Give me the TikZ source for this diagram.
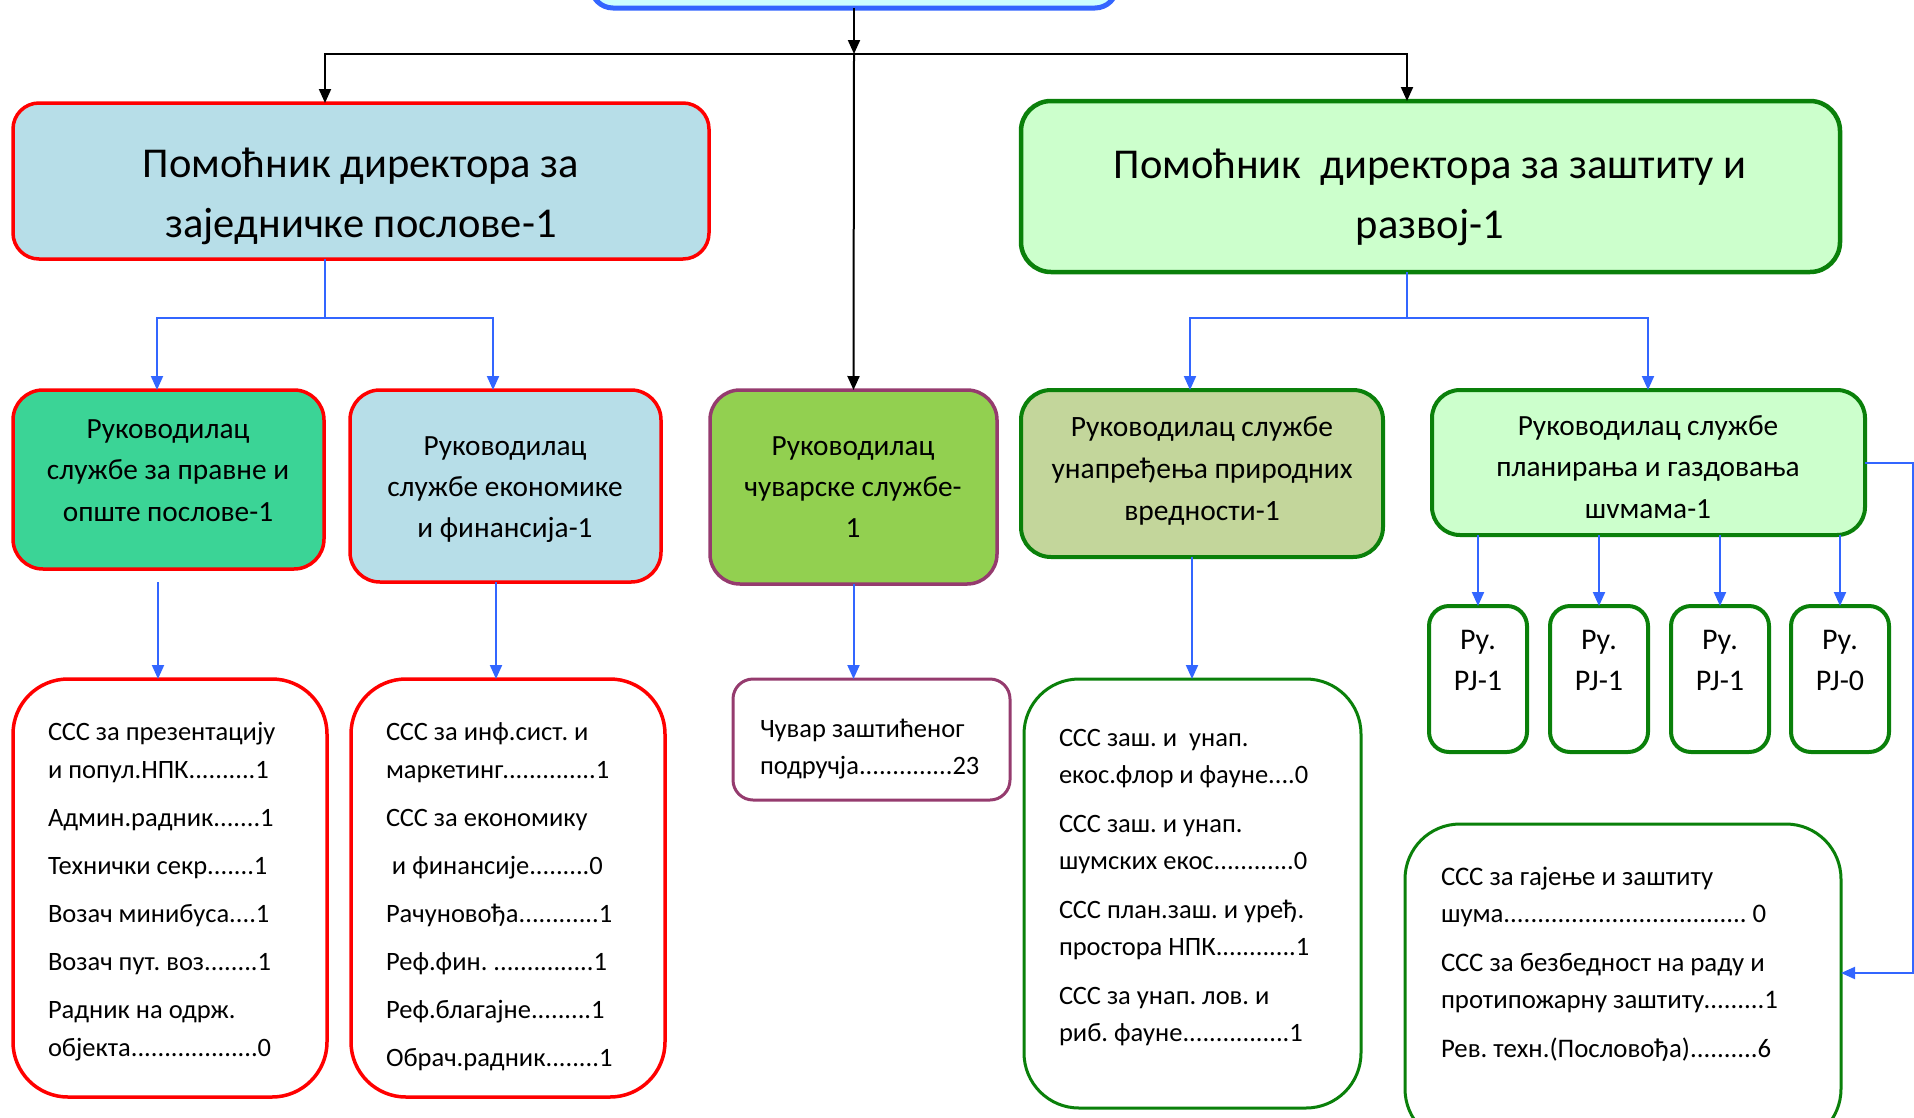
\documentclass[tikz,border=0pt]{standalone}
\usepackage{fontspec}
\setmainfont{Carlito}
\frenchspacing
\usetikzlibrary{arrows.meta,calc}
\definecolor{lblue}{HTML}{B7DEE8}
\definecolor{redb}{HTML}{FF0000}
\definecolor{tealg}{HTML}{3BD496}
\definecolor{limeg}{HTML}{92D050}
\definecolor{purp}{HTML}{953B6E}
\definecolor{mint}{HTML}{CCFFCC}
\definecolor{greenb}{HTML}{0A800A}
\definecolor{olive}{HTML}{C3D69B}
\definecolor{conblue}{HTML}{3366FF}
\definecolor{cyanf}{HTML}{CCFFFF}
\newcommand\myc[1]{\hbox to 0pt{\hss#1\hss}}
\newcommand\myl[1]{\hbox{#1}}
\tikzset{
  box/.style={rectangle, inner sep=0pt, outer sep=0pt, anchor=north west},
  txt/.style={inner sep=0pt, outer sep=0pt, text=black},
  blk/.style={draw=black, line width=2pt, -{Triangle[length=14pt,width=12pt]}},
  bl/.style={draw=conblue, line width=2pt, -{Triangle[length=14pt,width=12pt]}},
  blplain/.style={draw=conblue, line width=2pt},
}
\begin{document}
\begin{tikzpicture}[x=1pt,y=-1pt]
\useasboundingbox (0,0) rectangle (1914,1117);
% top box
\node[box, draw=conblue, fill=cyanf, line width=5pt, rounded corners=22pt, minimum width=526pt, minimum height=80pt] (T) at (591,-72) {};
% level 1
\node[box, draw=redb, fill=lblue, line width=3.5pt, rounded corners=26pt, minimum width=696pt, minimum height=156pt] (A) at (13,103) {};
\node[box, draw=greenb, fill=mint, line width=4.5pt, rounded corners=30pt, minimum width=819pt, minimum height=171pt] (D) at (1021,101) {};
% level 2
\node[box, draw=redb, fill=tealg, line width=3.5pt, rounded corners=30pt, minimum width=311pt, minimum height=179pt] (B1) at (13,390) {};
\node[box, draw=redb, fill=lblue, line width=3.5pt, rounded corners=30pt, minimum width=311pt, minimum height=192pt] (B2) at (350,390) {};
\node[box, draw=purp, fill=limeg, line width=3.5pt, rounded corners=30pt, minimum width=287pt, minimum height=194pt] (C) at (710,390) {};
\node[box, draw=greenb, fill=olive, line width=4pt, rounded corners=30pt, minimum width=362pt, minimum height=167pt] (E) at (1021,390) {};
\node[box, draw=greenb, fill=mint, line width=4pt, rounded corners=28pt, minimum width=433pt, minimum height=145pt] (F) at (1432,390) {};
% PJ boxes
\node[box, draw=greenb, fill=white, line width=4pt, rounded corners=20pt, minimum width=98pt, minimum height=146pt] (P1) at (1429,606) {};
\node[box, draw=greenb, fill=white, line width=4pt, rounded corners=20pt, minimum width=98pt, minimum height=146pt] (P2) at (1550,606) {};
\node[box, draw=greenb, fill=white, line width=4pt, rounded corners=20pt, minimum width=98pt, minimum height=146pt] (P3) at (1671,606) {};
\node[box, draw=greenb, fill=white, line width=4pt, rounded corners=20pt, minimum width=98pt, minimum height=146pt] (P4) at (1791,606) {};
% level 3
\node[box, draw=redb, fill=white, line width=3.5pt, rounded corners=55pt, minimum width=314pt, minimum height=418pt] (G1) at (13,679) {};
\node[box, draw=redb, fill=white, line width=3.5pt, rounded corners=55pt, minimum width=314pt, minimum height=418pt] (G2) at (351,679) {};
\node[box, draw=purp, fill=white, line width=3pt, rounded corners=20pt, minimum width=277pt, minimum height=121pt] (H) at (733,679) {};
\node[box, draw=greenb, fill=white, line width=3pt, rounded corners=55pt, minimum width=337pt, minimum height=429pt] (I) at (1024,679) {};
\node[box, draw=greenb, fill=white, line width=3pt, rounded corners=55pt, minimum width=436pt, minimum height=320pt] (J) at (1405,824) {};

% texts
\node[txt, anchor=base] (At) at (361,177) {\fontsize{42.5}{60}\selectfont\vtop{\myc{Помоћник директора за}\myc{заједничке послове-1}}};
\node[txt, anchor=base] (Dt) at (1430,178) {\fontsize{42.5}{60}\selectfont\vtop{\myc{Помоћник\ \ директора за заштиту и}\myc{развој-1}}};
\node[txt, anchor=base] (B1t) at (168,438) {\fontsize{29.3}{41.5}\selectfont\vtop{\myc{Руководилац}\myc{службе за правне и}\myc{опште послове-1}}};
\node[txt, anchor=base] (B2t) at (505,455) {\fontsize{29.3}{41}\selectfont\vtop{\myc{Руководилац}\myc{службе економике}\myc{и финансија-1}}};
\node[txt, anchor=base] (Ct) at (853,455) {\fontsize{29.3}{41}\selectfont\vtop{\myc{Руководилац}\myc{чуварске службе-}\myc{1}}};
\node[txt, anchor=base] (Et) at (1202,436) {\fontsize{29.5}{42}\selectfont\vtop{\myc{Руководилац службе}\myc{унапређења природних}\myc{вредности-1}}};
\node[txt, anchor=base] (Ft) at (1648,435) {\fontsize{29.3}{41.5}\selectfont\vtop{\myc{Руководилац службе}\myc{планирања и газдовања}\myc{шvмама-1}}};
\node[txt, anchor=base] (P1t) at (1478,649) {\fontsize{30}{41}\selectfont\vtop{\myc{Ру.}\myc{РЈ-1}}};
\node[txt, anchor=base] (P2t) at (1599,649) {\fontsize{30}{41}\selectfont\vtop{\myc{Ру.}\myc{РЈ-1}}};
\node[txt, anchor=base] (P3t) at (1720,649) {\fontsize{30}{41}\selectfont\vtop{\myc{Ру.}\myc{РЈ-1}}};
\node[txt, anchor=base] (P4t) at (1840,649) {\fontsize{30}{41}\selectfont\vtop{\myc{Ру.}\myc{РЈ-0}}};
\node[txt, anchor=base west] (G1t) at (48,740) {\fontsize{26.5}{38}\selectfont\vtop{%
 \myl{ССС за презентацију}\myl{и попул.НПК..........1}\vskip10pt
 \myl{Админ.радник.......1}\vskip10pt
 \myl{Технички секр.......1}\vskip10pt
 \myl{Возач минибуса....1}\vskip10pt
 \myl{Возач пут. воз........1}\vskip10pt
 \myl{Радник на одрж.}\myl{објекта...................0}}};
\node[txt, anchor=base west] (G2t) at (386,740) {\fontsize{26.5}{38}\selectfont\vtop{%
 \myl{ССС за инф.сист. и}\myl{маркетинг..............1}\vskip10pt
 \myl{ССС за економику}\vskip10pt
 \myl{\ и финансије.........0}\vskip10pt
 \myl{Рачуновођа............1}\vskip10pt
 \myl{Реф.фин. ...............1}\vskip10pt
 \myl{Реф.благајне.........1}\vskip10pt
 \myl{Обрач.радник........1}}};
\node[txt, anchor=base west] (Ht) at (760,737) {\fontsize{26.5}{37}\selectfont\vtop{%
 \myl{Чувар заштићеног}\myl{подручја..............23}}};
\node[txt, anchor=base west] (It) at (1059,746) {\fontsize{26.5}{37.5}\selectfont\vtop{%
 \myl{ССС заш. и\ \ унап.}\myl{екос.флор и фауне....0}\vskip11pt
 \myl{ССС заш. и унап.}\myl{шумских екос............0}\vskip11pt
 \myl{ССС план.заш. и уређ.}\myl{простора НПК............1}\vskip11pt
 \myl{ССС за унап. лов. и}\myl{риб. фауне................1}}};
\node[txt, anchor=base west] (Jt) at (1441,885) {\fontsize{26.8}{37.5}\selectfont\vtop{%
 \myl{ССС за гајење и заштиту}\myl{шума.................................... 0}\vskip11pt
 \myl{ССС за безбедност на раду и}\myl{протипожарну заштиту.........1}\vskip11pt
 \myl{Рев. техн.(Пословођа)..........6}}};

% connectors (black)
\coordinate (hub) at (854,54);
\coordinate (xa) at (325,0);
\coordinate (xd) at (1407,0);
\draw[blk] (T.south) -- (hub);
\draw[draw=black, line width=2pt] (xa |- hub) -- (xd |- hub);
\draw[blk] (hub) -| (xa |- A.north);
\draw[blk] (hub) -| (xd |- D.north);
\draw[blk] (hub) -- (C.north);
% blue connectors
\coordinate (ja) at (325,318);
\coordinate (jd) at (1407,318);
\coordinate (xb1) at (157,0);
\coordinate (xb2) at (493,0);
\coordinate (xe) at (1190,0);
\coordinate (xf) at (1648,0);
\draw[blplain] (xa |- A.south) -- (ja);
\draw[bl] (ja) -| (xb1 |- B1.north);
\draw[bl] (ja) -| (xb2 |- B2.north);
\draw[blplain] (xd |- D.south) -- (jd);
\draw[bl] (jd) -| (xe |- E.north);
\draw[bl] (jd) -| (xf |- F.north);
\coordinate (g1x) at (158,0);
\coordinate (g2x) at (496,0);
\coordinate (ix) at (1192,0);
\draw[bl, shorten <=13pt] (g1x |- B1.south) -- (g1x |- G1.north);
\draw[bl] (g2x |- B2.south) -- (g2x |- G2.north);
\draw[bl] (C.south) -- (C.south |- H.north);
\draw[bl] (ix |- E.south) -- (ix |- I.north);
\draw[bl] (P1.north |- F.south) -- (P1.north);
\draw[bl] (P2.north |- F.south) -- (P2.north);
\draw[bl] (P3.north |- F.south) -- (P3.north);
\draw[bl] (P4.north |- F.south) -- (P4.north);
\coordinate (jr) at (1913,973);
\draw[bl] (F.east) -| (jr) -- (jr -| J.east);
\end{tikzpicture}
\end{document}
